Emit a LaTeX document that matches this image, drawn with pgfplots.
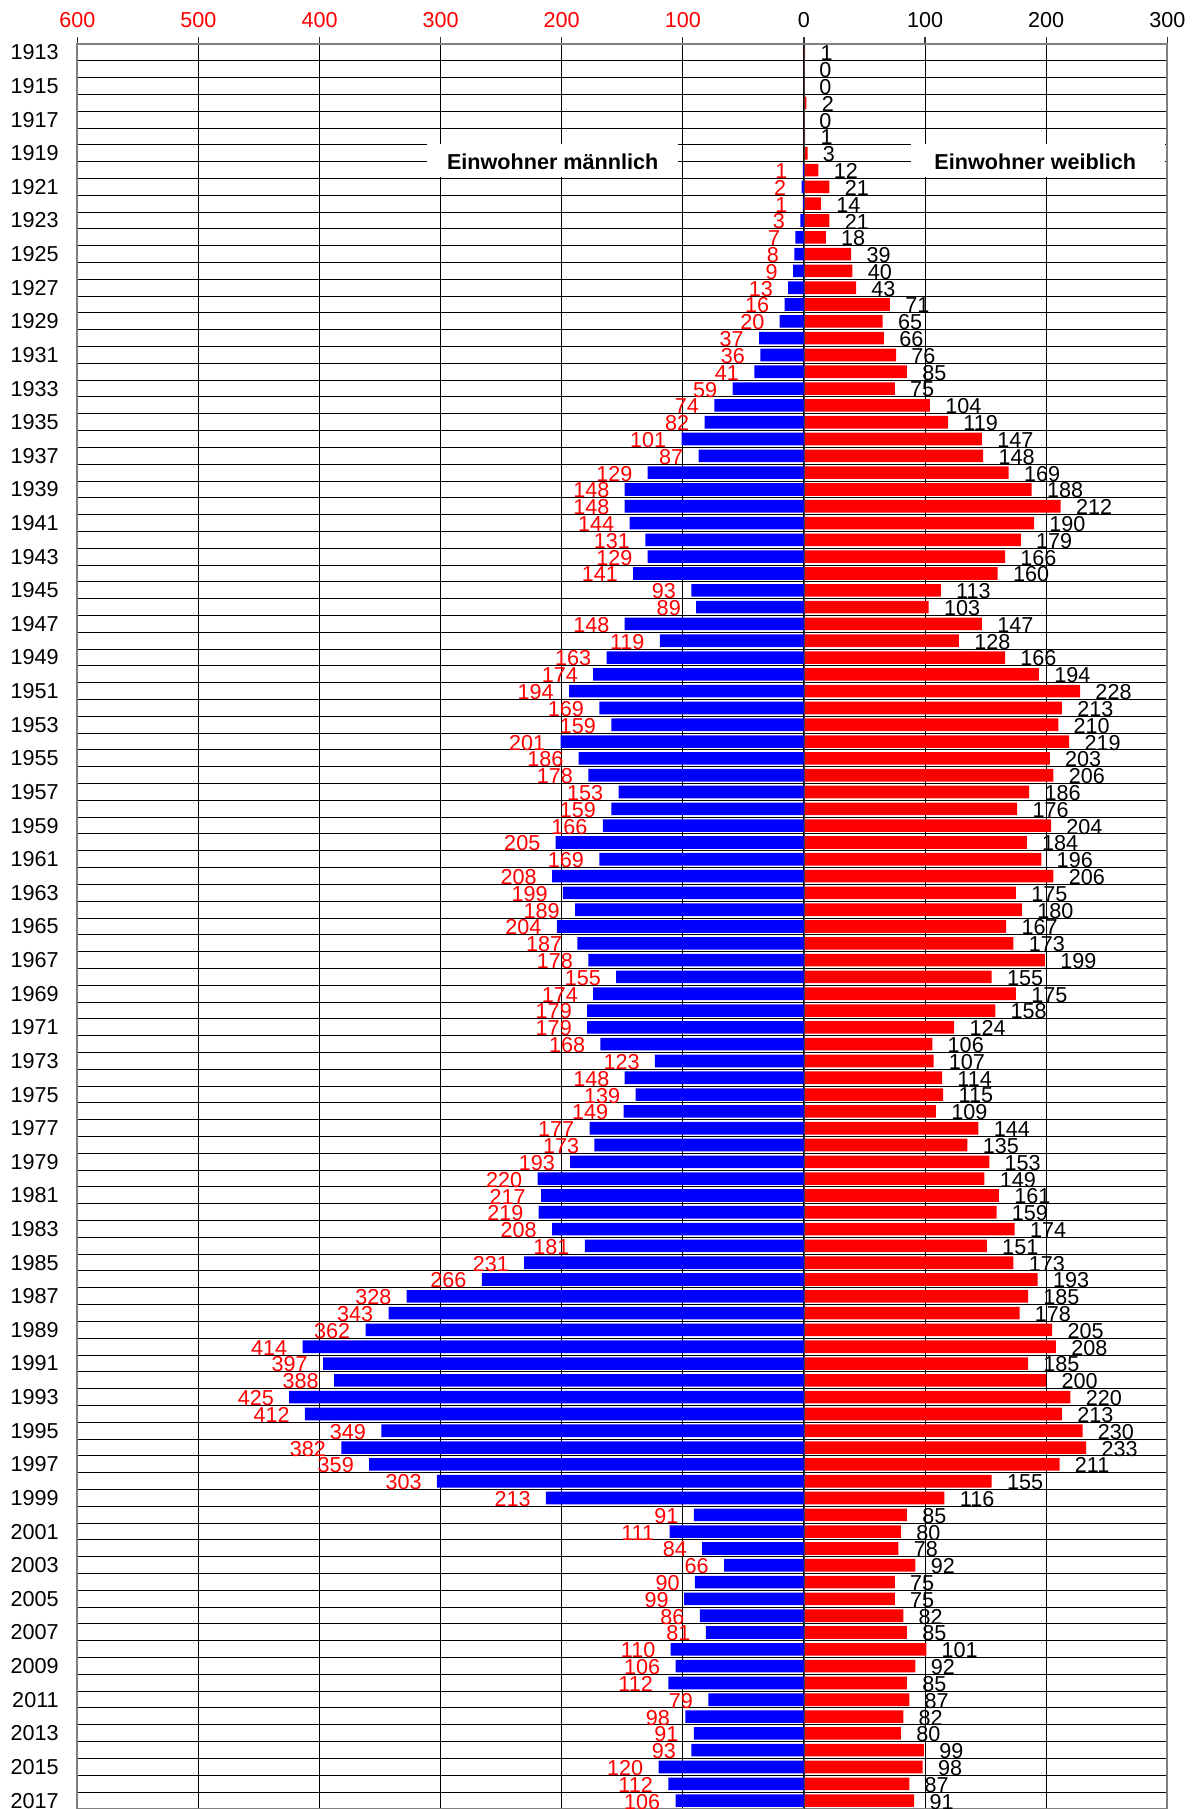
\documentclass[border=0pt]{standalone}
\usepackage{fontspec}
\setmainfont{Liberation Sans}
\usepackage{pgfplots}
\usepackage{pgfplotstable}
\pgfplotsset{compat=1.18}
\newcommand\lblfont{\fontsize{10.8}{13}\selectfont}

\pgfplotstableread{
year v
1920 1
1921 2
1922 1
1923 3
1924 7
1925 8
1926 9
1927 13
1928 16
1929 20
1930 37
1931 36
1932 41
1933 59
1934 74
1935 82
1936 101
1937 87
1938 129
1939 148
1940 148
1941 144
1942 131
1943 129
1944 141
1945 93
1946 89
1947 148
1948 119
1949 163
1950 174
1951 194
1952 169
1953 159
1954 201
1955 186
1956 178
1957 153
1958 159
1959 166
1960 205
1961 169
1962 208
1963 199
1964 189
1965 204
1966 187
1967 178
1968 155
1969 174
1970 179
1971 179
1972 168
1973 123
1974 148
1975 139
1976 149
1977 177
1978 173
1979 193
1980 220
1981 217
1982 219
1983 208
1984 181
1985 231
1986 266
1987 328
1988 343
1989 362
1990 414
1991 397
1992 388
1993 425
1994 412
1995 349
1996 382
1997 359
1998 303
1999 213
2000 91
2001 111
2002 84
2003 66
2004 90
2005 99
2006 86
2007 81
2008 110
2009 106
2010 112
2011 79
2012 98
2013 91
2014 93
2015 120
2016 112
2017 106
}\male

\pgfplotstableread{
year v
1913 1
1914 0
1915 0
1916 2
1917 0
1918 1
1919 3
1920 12
1921 21
1922 14
1923 21
1924 18
1925 39
1926 40
1927 43
1928 71
1929 65
1930 66
1931 76
1932 85
1933 75
1934 104
1935 119
1936 147
1937 148
1938 169
1939 188
1940 212
1941 190
1942 179
1943 166
1944 160
1945 113
1946 103
1947 147
1948 128
1949 166
1950 194
1951 228
1952 213
1953 210
1954 219
1955 203
1956 206
1957 186
1958 176
1959 204
1960 184
1961 196
1962 206
1963 175
1964 180
1965 167
1966 173
1967 199
1968 155
1969 175
1970 158
1971 124
1972 106
1973 107
1974 114
1975 115
1976 109
1977 144
1978 135
1979 153
1980 149
1981 161
1982 159
1983 174
1984 151
1985 173
1986 193
1987 185
1988 178
1989 205
1990 208
1991 185
1992 200
1993 220
1994 213
1995 230
1996 233
1997 211
1998 155
1999 116
2000 85
2001 80
2002 78
2003 92
2004 75
2005 75
2006 82
2007 85
2008 101
2009 92
2010 85
2011 87
2012 82
2013 80
2014 99
2015 98
2016 87
2017 91
}\female

\definecolor{mblue}{RGB}{0,0,255}
\definecolor{fred}{RGB}{255,0,0}

\begin{document}
\lblfont
\begin{tikzpicture}
\begin{axis}[
  width=545pt, height=882.5pt, scale only axis,
  xmin=-600, xmax=300, ymin=1912.5, ymax=2017.5, y dir=reverse,
  xtick={-600,-500,...,300},
  xticklabels={\textcolor{fred}{600},\textcolor{fred}{500},\textcolor{fred}{400},\textcolor{fred}{300},\textcolor{fred}{200},\textcolor{fred}{100},0,100,200,300},
  xtick pos=right, xticklabel pos=right, xtick align=outside,
  major tick length=3.5pt,
  ytick={1913,1915,...,2017},
  yticklabel={\pgfmathparse{int(round(\tick))}\pgfmathresult},
  ytick style={draw=none},
  minor ytick={1913.5,1914.5,...,2016.5},
  minor tick length=0pt,
  xmajorgrids, yminorgrids, ymajorgrids=false,
  major grid style={black, line width=0.5pt},
  minor grid style={black, line width=0.5pt},
  axis line style={gray, line width=1pt},
  xtick style={black!80, line width=0.6pt},
  yticklabel style={xshift=-5.5pt, font=\lblfont},
  xticklabel style={yshift=1pt, font=\lblfont},
  /pgf/number format/assume math mode=true,
]
\addplot[xbar, bar width=0.75, bar shift=0pt, fill=mblue, draw=none,
  point meta=explicit,
  nodes near coords,
  nodes near coords align={horizontal},
  every node near coord/.append style={anchor=east, text=fred, inner sep=0pt, xshift=-7.5pt, yshift=-0.5pt, font=\lblfont}]
  table[x expr=-\thisrow{v}, y=year, meta=v] {\male};
\addplot[xbar, bar width=0.75, bar shift=0pt, fill=fred, draw=none,
  point meta=explicit,
  nodes near coords,
  nodes near coords align={horizontal},
  every node near coord/.append style={anchor=west, text=black, inner sep=0pt, xshift=7.5pt, yshift=-0.5pt, font=\lblfont}]
  table[x=v, y=year, meta=v] {\female};
\addplot[black!75, line width=0.4pt] coordinates {(0,1912.5) (0,2017.5)};
\fill[white] (axis cs:-311,1918.42) rectangle (axis cs:-104,1920.42);
\fill[white] (axis cs:88,1918.42) rectangle (axis cs:298,1920.42);
\node[font=\lblfont\bfseries] at (axis cs:-207.5,1919.5) {Einwohner männlich};
\node[font=\lblfont\bfseries] at (axis cs:191,1919.5) {Einwohner weiblich};
\end{axis}
\pgfresetboundingbox
\path (-38.65pt,0pt) rectangle (557.65pt,904.5pt);
\end{tikzpicture}
\end{document}
